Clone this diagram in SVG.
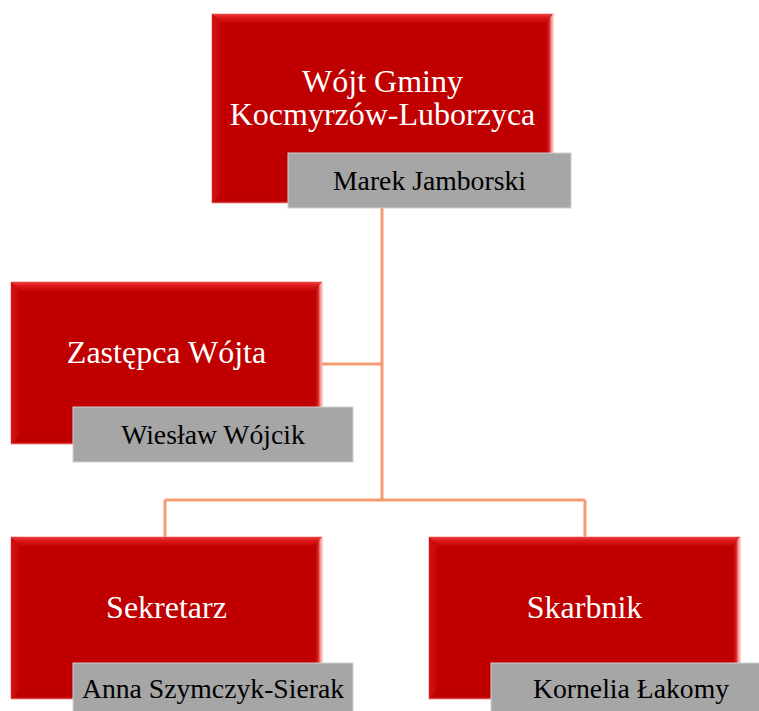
<svg xmlns="http://www.w3.org/2000/svg" width="759" height="711" viewBox="0 0 759 711">
<defs>
<linearGradient id="gTop" x1="0" y1="0" x2="0" y2="1">
<stop offset="0" stop-color="#EE4040"/>
<stop offset="0.4" stop-color="#DC1818"/>
<stop offset="1" stop-color="#C80404"/>
</linearGradient>
<linearGradient id="gLeft" x1="0" y1="0" x2="1" y2="0">
<stop offset="0" stop-color="#D41414"/>
<stop offset="1" stop-color="#C40202"/>
</linearGradient>
<linearGradient id="gRight" x1="0" y1="0" x2="1" y2="0">
<stop offset="0" stop-color="#C20000"/>
<stop offset="0.45" stop-color="#D42020"/>
<stop offset="0.7" stop-color="#F48080"/>
<stop offset="1" stop-color="#FFC8C8"/>
</linearGradient>
<linearGradient id="gBottom" x1="0" y1="0" x2="0" y2="1">
<stop offset="0" stop-color="#BE0000"/>
<stop offset="0.7" stop-color="#C00000"/>
<stop offset="1" stop-color="#E66060"/>
</linearGradient>
</defs>
<style>
.red{fill:#C00000;stroke:#F2A0A0;stroke-width:1}
.bt{fill:url(#gTop)}
.bl{fill:url(#gLeft)}
.br{fill:url(#gRight)}
.bb{fill:url(#gBottom)}
.gray{fill:#A6A6A6;stroke:#CFCFCF;stroke-width:1}
.t1{font-family:"Liberation Serif","Times New Roman",serif;font-size:32px;fill:#FFFFFF;text-anchor:middle}
.t2{font-family:"Liberation Serif","Times New Roman",serif;font-size:27.7px;fill:#000000;text-anchor:middle}
.conn{fill:none;stroke:#F39C72;stroke-width:3}
</style>
<g id="connectors">
<path class="conn" d="M382,203 V500"/>
<path class="conn" d="M322,364 H382"/>
<path class="conn" d="M165,500 H585"/>
<path class="conn" d="M165,500 V537"/>
<path class="conn" d="M585,500 V537"/>
</g>
<g id="wojt">
<rect class="red" x="212" y="14" width="341" height="189"/>
<polygon class="bt" points="212,14 553,14 544,23 221,23"/>
<polygon class="bl" points="212,14 221,23 221,194 212,203"/>
<polygon class="br" points="553,14 553,203 546,196 546,21"/>
<polygon class="bb" points="212,203 553,203 546,197 221,197"/>
<text class="t1" x="382.5" y="92">Wójt Gminy</text>
<text class="t1" x="382.5" y="125">Kocmyrzów-Luborzyca</text>
<rect class="gray" x="288" y="153" width="283" height="55"/>
<text class="t2" x="429.5" y="190">Marek Jamborski</text>
</g>
<g id="zastepca">
<rect class="red" x="11" y="282" width="311" height="162"/>
<polygon class="bt" points="11,282 322,282 313,291 20,291"/>
<polygon class="bl" points="11,282 20,291 20,435 11,444"/>
<polygon class="br" points="322,282 322,444 315,437 315,289"/>
<polygon class="bb" points="11,444 322,444 315,438 20,438"/>
<text class="t1" x="166.5" y="363">Zastępca Wójta</text>
<rect class="gray" x="73" y="407" width="280" height="55"/>
<text class="t2" x="213" y="444">Wiesław Wójcik</text>
</g>
<g id="sekretarz">
<rect class="red" x="11" y="537" width="311" height="162"/>
<polygon class="bt" points="11,537 322,537 313,546 20,546"/>
<polygon class="bl" points="11,537 20,546 20,690 11,699"/>
<polygon class="br" points="322,537 322,699 315,692 315,544"/>
<polygon class="bb" points="11,699 322,699 315,693 20,693"/>
<text class="t1" x="166.5" y="618">Sekretarz</text>
<rect class="gray" x="73" y="663" width="280" height="55"/>
<text class="t2" x="213" y="698">Anna Szymczyk-Sierak</text>
</g>
<g id="skarbnik">
<rect class="red" x="429" y="537" width="311" height="162"/>
<polygon class="bt" points="429,537 740,537 731,546 438,546"/>
<polygon class="bl" points="429,537 438,546 438,690 429,699"/>
<polygon class="br" points="740,537 740,699 733,692 733,544"/>
<polygon class="bb" points="429,699 740,699 733,693 438,693"/>
<text class="t1" x="584.5" y="618">Skarbnik</text>
<rect class="gray" x="491" y="663" width="280" height="55"/>
<text class="t2" x="631" y="698">Kornelia Łakomy</text>
</g>
</svg>
